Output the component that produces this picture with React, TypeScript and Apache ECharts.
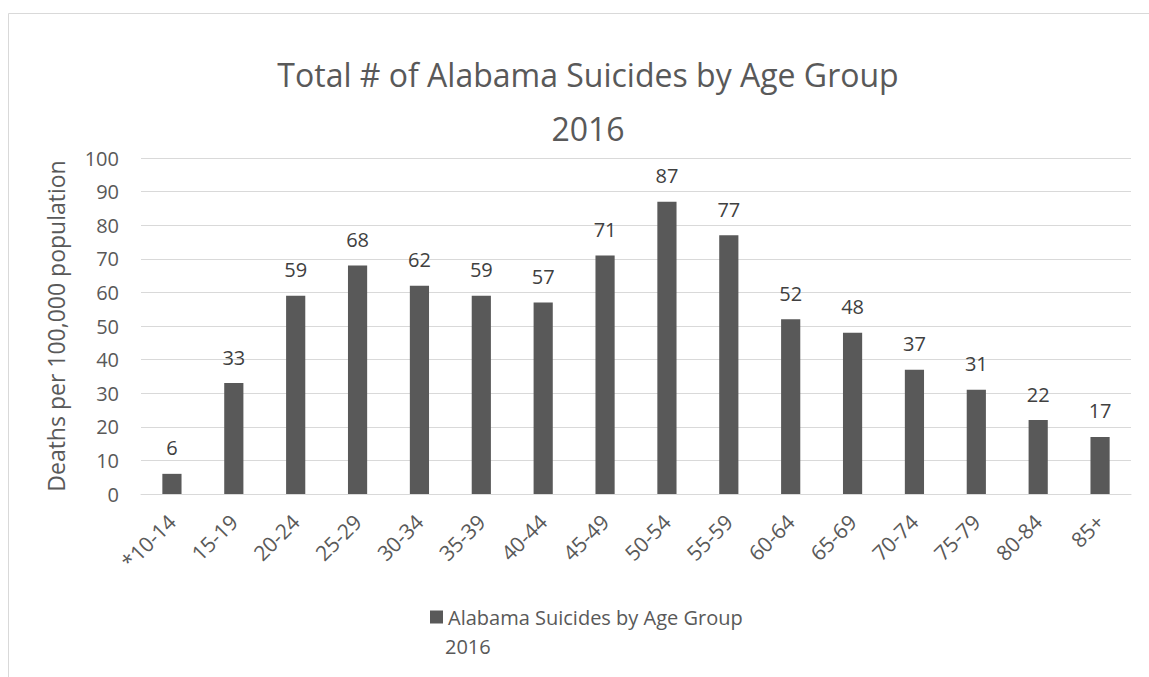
import React, { useEffect, useRef } from "react";
import * as echarts from "echarts";

const titleLines = ["Total # of Alabama Suicides by Age Group", "2016"];
const yAxisName = "Deaths per 100,000 population";
const seriesName = "Alabama Suicides by Age Group 2016";
const legendLines = ["Alabama Suicides by Age Group", "2016"];
const categories = [
  "*10-14", "15-19", "20-24", "25-29", "30-34", "35-39", "40-44", "45-49",
  "50-54", "55-59", "60-64", "65-69", "70-74", "75-79", "80-84", "85+",
];
const values = [6, 33, 59, 68, 62, 59, 57, 71, 87, 77, 52, 48, 37, 31, 22, 17];
const yMin = 0;
const yMax = 100;
const yInterval = 10;

const FONT = "'Open Sans', sans-serif";

export default function App() {
  const ref = useRef<HTMLDivElement>(null);
  useEffect(() => {
    if (!ref.current) return;
    const chart = echarts.init(ref.current, undefined, { renderer: "svg" });
    chart.setOption({
      animation: false,
      backgroundColor: "#ffffff",
      textStyle: { fontFamily: FONT },
      graphic: [
        {
          type: "rect",
          shape: { x: 8.5, y: 13.5, width: 1160, height: 720 },
          style: { fill: "none", stroke: "#d9d9d9", lineWidth: 1 },
          silent: true,
        },
        {
          type: "text",
          left: 445,
          top: 636,
          style: {
            text: legendLines[1],
            fontFamily: FONT,
            fontSize: 20,
            fill: "#595959",
          },
          silent: true,
        },
      ],
      title: {
        text: titleLines.join("\n"),
        left: 583,
        top: 42,
        textAlign: "center",
        textStyle: {
          fontFamily: FONT,
          fontSize: 32,
          fontWeight: "normal",
          color: "#595959",
          lineHeight: 54,
        },
      },
      legend: {
        left: 425,
        top: 602,
        itemWidth: 13,
        itemHeight: 13,
        icon: "rect",
        itemGap: 10,
        formatter: () => legendLines[0],
        textStyle: {
          fontFamily: FONT,
          fontSize: 20,
          color: "#595959",
        },
        data: [seriesName],
      },
      grid: { left: 141, right: 18, top: 158, bottom: 183, containLabel: false },
      xAxis: {
        type: "category",
        data: categories,
        axisLine: { show: true, lineStyle: { color: "#d9d9d9", width: 1 } },
        axisTick: { show: false },
        axisLabel: {
          rotate: 45,
          interval: 0,
          margin: 24,
          fontFamily: FONT,
          fontSize: 21,
          color: "#595959",
        },
      },
      yAxis: {
        type: "value",
        min: yMin,
        max: yMax,
        interval: yInterval,
        name: yAxisName,
        nameLocation: "middle",
        nameGap: 74,
        nameRotate: 90,
        nameTextStyle: { fontFamily: FONT, fontSize: 23, color: "#595959" },
        axisLine: { show: false },
        axisTick: { show: false },
        splitLine: { lineStyle: { color: "#d9d9d9", width: 1 } },
        axisLabel: {
          margin: 22,
          fontFamily: FONT,
          fontSize: 20,
          color: "#595959",
        },
      },
      series: [
        {
          name: seriesName,
          type: "bar",
          data: values,
          barWidth: "31%",
          itemStyle: { color: "#595959" },
          label: {
            show: true,
            position: "top",
            distance: 16,
            fontFamily: FONT,
            fontSize: 20,
            color: "#404040",
          },
        },
      ],
    });
    return () => chart.dispose();
  }, []);
  return (
    <div
      ref={ref}
      style={{ position: "absolute", left: 0, top: 0, width: 1149, height: 677 }}
    />
  );
}
